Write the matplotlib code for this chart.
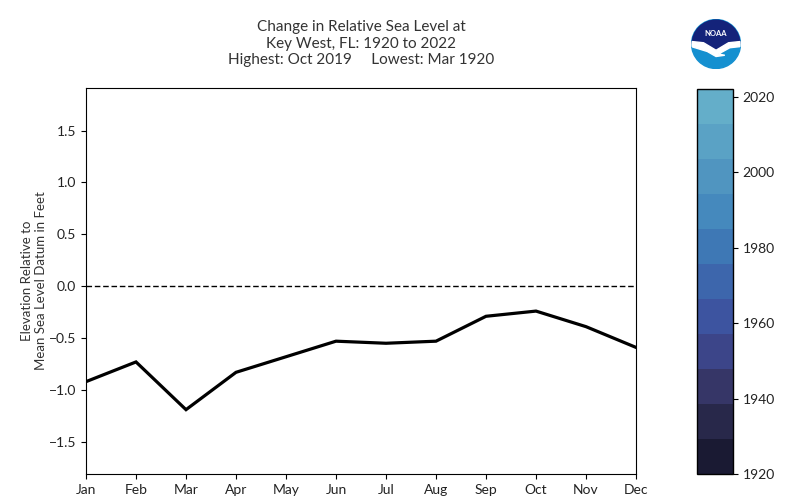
import numpy as np
import matplotlib
matplotlib.use("Agg")
import matplotlib.pyplot as plt
from matplotlib.colors import ListedColormap, Normalize
from matplotlib.colorbar import ColorbarBase
from matplotlib.patches import Circle, Polygon

plt.rcParams['font.family'] = ['Lato', 'DejaVu Sans']

months = ["Jan", "Feb", "Mar", "Apr", "May", "Jun",
          "Jul", "Aug", "Sep", "Oct", "Nov", "Dec"]
elevation = [-0.92, -0.73, -1.19, -0.83, -0.68, -0.53,
             -0.55, -0.53, -0.29, -0.24, -0.39, -0.59]
year_ticks = [1920, 1940, 1960, 1980, 2000, 2020]
year_range = (1920, 2022)
band_colors = ["#1a1a33", "#28284a", "#363667", "#3c4589", "#3d54a0", "#3d66ac",
               "#3e78b5", "#4589bd", "#5095c0", "#5aa2c5", "#64aec9"]

title = ("Change in Relative Sea Level at\n"
         "Key West, FL: 1920 to 2022\n"
         "Highest: Oct 2019     Lowest: Mar 1920")

fig = plt.figure(figsize=(8, 5), dpi=100)
ax = fig.add_axes([0.1075, 0.052, 0.6875, 0.772])

x = np.arange(len(months))
ax.plot(x, elevation, color="black", lw=2.3, solid_joinstyle="miter")
ax.axhline(0, color="black", lw=1, ls=(0, (4, 2)))
ax.set_xlim(0, 11)
ax.set_ylim(-1.81, 1.91)
ax.set_xticks(x)
ax.set_xticklabels(months)
ax.set_yticks([-1.5, -1.0, -0.5, 0.0, 0.5, 1.0, 1.5])
ax.tick_params(labelsize=10, labelcolor="#222222")
ax.set_ylabel("Elevation Relative to\nMean Sea Level Datum in Feet",
              fontsize=9.5, color="#333333", labelpad=1, linespacing=1.2)
ax.set_title(title, fontsize=11, color="#333333", pad=17, linespacing=1.25)

# colorbar of years
cax = fig.add_axes([0.871, 0.052, 0.045, 0.77])
cmap = ListedColormap(band_colors)
cb = ColorbarBase(cax, cmap=cmap, norm=Normalize(*year_range), orientation="vertical")
cb.set_ticks(year_ticks)
cb.ax.tick_params(labelsize=10, labelcolor="#222222")
cb.outline.set_linewidth(1)

# NOAA logo
lax = fig.add_axes([0.8638, 0.862, 0.0625, 0.1])
lax.set_xlim(-1, 1)
lax.set_ylim(-1, 1)
lax.set_aspect("equal")
lax.axis("off")
disc = Circle((0, 0), 0.98, color="#1590d0")
lax.add_patch(disc)
t = np.linspace(-1, 1, 60)
upper = np.column_stack([t * 0.98, 0.98 * np.sqrt(1 - t ** 2)])
edge = [[-0.98, 0.1], [-0.5, 0.05], [0.0, -0.25], [0.5, 0.05], [0.98, 0.1]]
top_blue = Polygon(np.vstack([upper[::-1], edge]), closed=True, color="#14237a")
top_blue.set_clip_path(disc)
lax.add_patch(top_blue)
gull = Polygon(edge + [[1.0, -0.1], [0.55, -0.15], [0.1, -0.4], [0.35, -0.45],
                       [0.0, -0.5], [-0.35, -0.3], [-1.0, -0.1]],
               closed=True, color="white")
gull.set_clip_path(disc)
lax.add_patch(gull)
lax.text(0, 0.42, "NOAA", color="white", ha="center", va="center",
         fontsize=5.5, fontweight="bold")

fig.savefig("out.png", dpi=100)
